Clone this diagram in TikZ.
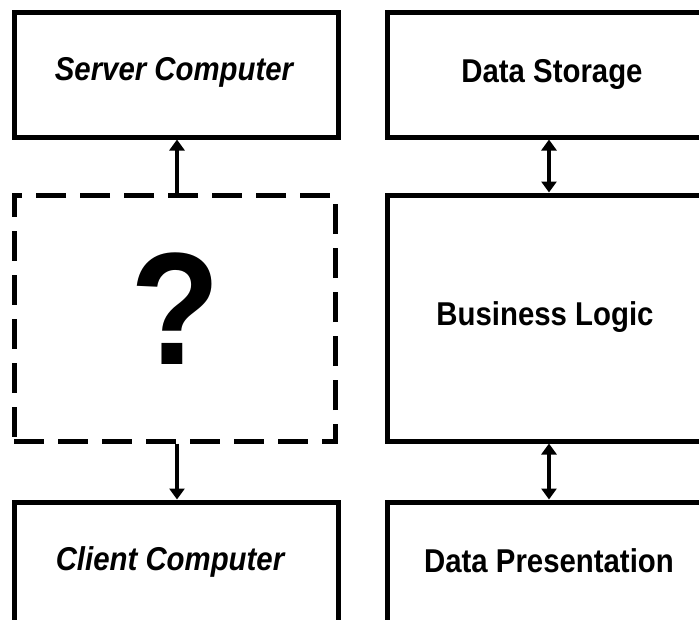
\documentclass[tikz,border=0pt]{standalone}
\usepackage{fontspec}
\setmainfont{Liberation Sans}
\usetikzlibrary{arrows.meta}
\tikzset{
  tierbox/.style={draw, line width=5pt, rectangle, inner sep=0pt},
  openbox/.style={draw, line width=5pt, dash pattern=on 30pt off 14pt, rectangle, inner sep=0pt},
  boxtext/.style={font=\fontsize{33}{33}\selectfont\bfseries, inner sep=0pt, anchor=base},
  link/.style={line width=3.5pt, -{Triangle[width=15pt,length=11pt]}},
  duallink/.style={line width=3.5pt, {Triangle[width=15pt,length=11pt]}-{Triangle[width=15pt,length=11pt]}}
}
\newcommand{\narrow}[1]{\scalebox{0.89}[1]{#1}}
\begin{document}
\begin{tikzpicture}[x=1pt,y=-1pt]
  \useasboundingbox (0,0) rectangle (699,619);
  \clip (0,0) rectangle (699,619);
  \fill[white] (0,0) rectangle (699,619);

  % left column: physical computers
  \node[tierbox, minimum width=324pt, minimum height=125pt] (server) at (176,74.5) {};
  \node[openbox, minimum width=321pt, minimum height=246pt] (unknown) at (174.5,318) {};
  \node[tierbox, minimum width=324pt, minimum height=160pt] (client) at (176,582) {};

  % right column: logical tiers
  \node[tierbox, minimum width=340pt, minimum height=125pt] (storage) at (557,74.5) {};
  \node[tierbox, minimum width=340pt, minimum height=246pt] (logic) at (557,318) {};
  \node[tierbox, minimum width=340pt, minimum height=160pt] (present) at (557,582) {};

  % labels
  \node[boxtext] (tserver) at (174,80) {\narrow{\itshape Server Computer}};
  \node[boxtext] (tclient) at (170,570) {\narrow{\itshape Client Computer}};
  \node[boxtext] (tstorage) at (552,82) {\narrow{Data Storage}};
  \node[boxtext] (tlogic) at (545,325) {\narrow{Business Logic}};
  \node[boxtext] (tpresent) at (549,572) {\narrow{Data Presentation}};
  \node[font=\fontsize{160}{160}\selectfont\bfseries, inner sep=0pt] (qmark) at (175,309) {\scalebox{0.92}[1]{?}};

  % connectors
  \coordinate (lx) at (177,0);
  \coordinate (rx) at (549,0);
  \draw[link] (unknown.north -| lx) -- (server.south -| lx);
  \draw[link] (unknown.south -| lx) -- (client.north -| lx);
  \draw[duallink] (storage.south -| rx) -- (logic.north -| rx);
  \draw[duallink] (logic.south -| rx) -- (present.north -| rx);
\end{tikzpicture}
\end{document}
